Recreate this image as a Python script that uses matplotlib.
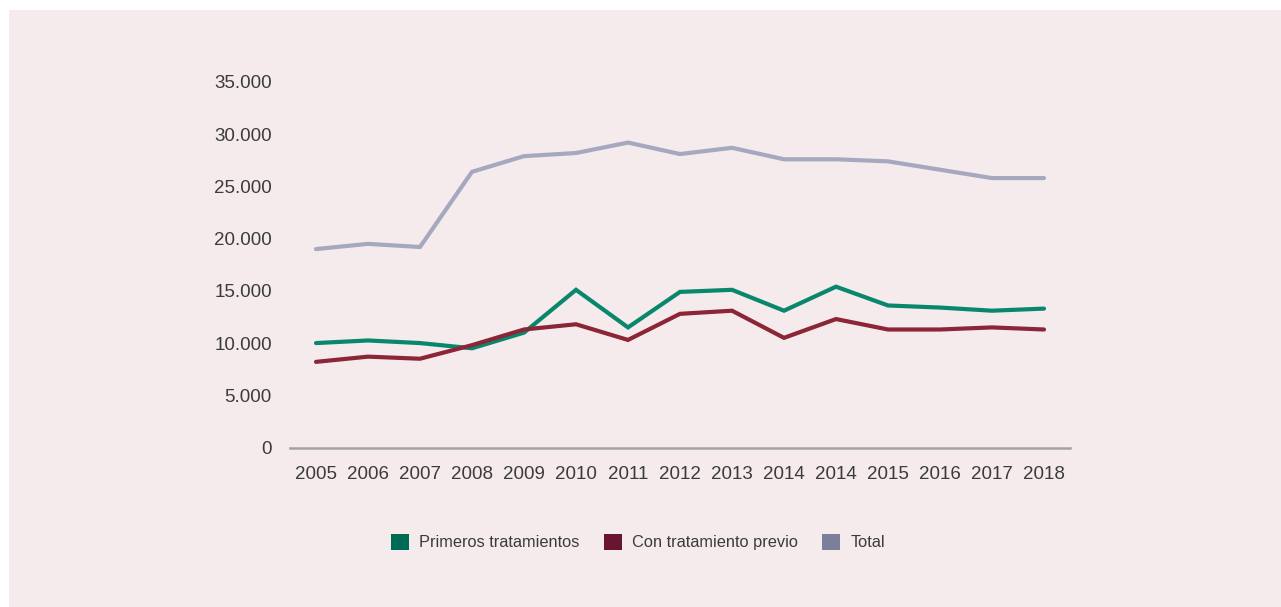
import matplotlib
matplotlib.use('Agg')
import matplotlib.pyplot as plt
from matplotlib.patches import Patch, Rectangle
from matplotlib.ticker import FuncFormatter

# data
years = ['2005', '2006', '2007', '2008', '2009', '2010', '2011', '2012',
         '2013', '2014', '2014', '2015', '2016', '2017', '2018']
primeros = [10000, 10250, 10000, 9500, 11000, 15100, 11500, 14900,
            15100, 13100, 15400, 13600, 13400, 13100, 13300]
previo = [8200, 8700, 8500, 9800, 11300, 11800, 10300, 12800,
          13100, 10500, 12300, 11300, 11300, 11500, 11300]
total = [19000, 19500, 19200, 26400, 27900, 28200, 29200, 28100,
         28700, 27600, 27600, 27400, 26600, 25800, 25800]
yticks = [0, 5000, 10000, 15000, 20000, 25000, 30000, 35000]

labels = ['Primeros tratamientos', 'Con tratamiento previo', 'Total']
line_colors = ['#08876c', '#8c2535', '#a6a8c0']
legend_colors = ['#006b55', '#691532', '#7b7f99']

plt.rcParams['font.family'] = ['Liberation Sans', 'DejaVu Sans']
text_color = '#3b3b3b'
bg = '#f5ebed'

fig = plt.figure(figsize=(12.81, 6.07), dpi=100, facecolor='white')
# pink panel (white strip on left and top)
panel = Rectangle((9 / 1281, 0), 1, 1 - 10 / 607, transform=fig.transFigure,
                  facecolor=bg, edgecolor='none', zorder=-10)
fig.add_artist(panel)

ax = fig.add_axes([290 / 1281, 159.5 / 607, 780 / 1281, 365.5 / 607])
ax.set_facecolor('none')
ax.set_zorder(5)

x = list(range(len(years)))
for series, c in zip([primeros, previo, total], line_colors):
    ax.plot(x, series, color=c, linewidth=3.0, solid_joinstyle='miter',
            solid_capstyle='round')

ax.set_xlim(-0.5, len(years) - 0.5)
ax.set_ylim(0, 35000)
ax.set_xticks(x)
ax.set_xticklabels(years)
ax.set_yticks(yticks)
ax.yaxis.set_major_formatter(FuncFormatter(lambda v, p: f'{int(v):,}'.replace(',', '.')))

for s in ['top', 'right', 'left']:
    ax.spines[s].set_visible(False)
ax.spines['bottom'].set_color('#a3a3a3')
ax.spines['bottom'].set_linewidth(1.8)
ax.tick_params(axis='both', length=0, labelsize=13.5, colors=text_color)
ax.tick_params(axis='x', pad=13)
ax.tick_params(axis='y', pad=13)

handles = [Patch(facecolor=c, edgecolor='none') for c in legend_colors]
fig.legend(handles, labels, loc='center', bbox_to_anchor=(0.498, 0.107),
           ncol=3, frameon=False, fontsize=11.8, labelcolor=text_color,
           handlelength=1.1, handleheight=1.1, handletextpad=0.6,
           columnspacing=1.5)

plt.savefig('out.png', dpi=100, facecolor='white')
